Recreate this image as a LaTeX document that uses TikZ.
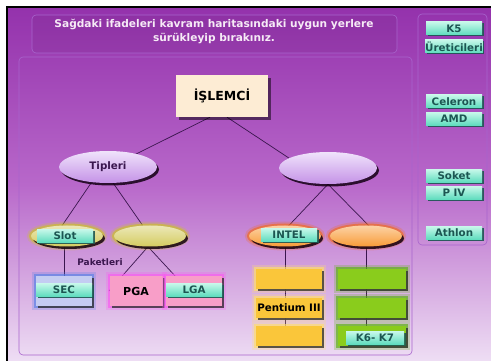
\documentclass[tikz,border=0pt]{standalone}
\usepackage{fontspec}
\setmainfont{DejaVu Sans}
\usetikzlibrary{shapes.geometric, shadows, positioning}
\definecolor{bgtop}{RGB}{148, 50, 172}
\definecolor{bgmid}{RGB}{184, 104, 202}
\definecolor{bgbot}{RGB}{238, 222, 244}
\definecolor{panelline}{RGB}{168, 100, 205}
\definecolor{linkline}{RGB}{58, 22, 78}
\definecolor{titletext}{RGB}{246, 234, 246}
\definecolor{lilac}{RGB}{204, 162, 242}
\definecolor{olive}{RGB}{212, 204, 96}
\definecolor{oliveglow}{RGB}{205, 195, 40}
\definecolor{orangefill}{RGB}{248, 156, 56}
\definecolor{orangeglow}{RGB}{242, 108, 30}
\definecolor{gold}{RGB}{250, 198, 58}
\definecolor{goldglow}{RGB}{255, 222, 110}
\definecolor{lime}{RGB}{138, 204, 28}
\definecolor{limeglow}{RGB}{92, 176, 20}
\definecolor{pinkfill}{RGB}{248, 158, 200}
\definecolor{pinkglow}{RGB}{250, 90, 240}
\definecolor{bluefill}{RGB}{196, 204, 242}
\definecolor{blueglow}{RGB}{90, 130, 230}
\definecolor{aqua}{RGB}{110, 236, 200}
\definecolor{aquadark}{RGB}{28, 86, 82}
\definecolor{cream}{RGB}{253, 236, 212}
\pgfdeclarelayer{back}
\pgfdeclarelayer{links}
\pgfsetlayers{back,links,main}

\begin{document}
\begin{tikzpicture}[x=1pt, y=-1pt, font=\bfseries\fontsize{10.3}{12}\selectfont,
    panel/.style={draw=panelline, rounded corners=4pt, line width=0.6pt},
    link/.style={draw=linkline, line width=0.7pt},
    glow/.style={preaction={draw=#1, line width=8pt, opacity=0.25},
        preaction={draw=#1, line width=4pt, opacity=0.65}},
    bubble/.style={ellipse, inner sep=0pt, text=linkline,
        drop shadow={shadow xshift=2pt, shadow yshift=-2.5pt, fill=black!85!violet, opacity=0.85}},
    bigbubble/.style={bubble, minimum width=98pt, minimum height=32pt,
        top color=lilac!30!white, bottom color=lilac!90!violet},
    smallbubble/.style={bubble, minimum width=72pt, minimum height=21pt},
    slotbox/.style={rectangle, inner sep=0pt, minimum width=#1, minimum height=20pt, text=black,
        drop shadow={shadow xshift=2pt, shadow yshift=-2pt, fill=black!80, opacity=0.8}},
    tealbtn/.style={rectangle, inner sep=0pt, minimum width=56pt, minimum height=13pt,
        top color=aqua!40!white, bottom color=aqua!85!teal, text=aquadark,
        drop shadow={shadow xshift=1.5pt, shadow yshift=-1.5pt, fill=aquadark, opacity=0.9}}]
    \useasboundingbox (0,0) rectangle (491,361);

    % Page, frame and panels
    \begin{pgfonlayer}{back}
        \fill[white] (0,0) rectangle (491,361);
        \shade[top color=bgtop, bottom color=bgbot, middle color=bgmid] (8,8) rectangle (491,361);
        \draw[black, line width=2.5pt] (7,361) -- (7,7) -- (491,7);
        \draw[panel, fill=bgtop!70!black, fill opacity=0.15] (32,15) rectangle (397,53);
        \draw[panel] (19,57) rectangle (412,355);
        \draw[panel] (418,14) rectangle (487,245);
    \end{pgfonlayer}

    % Instruction
    \node[text=titletext, align=center, font=\bfseries\fontsize{10.6}{14}\selectfont] (title) at (214,31)
        {Sağdaki ifadeleri kavram haritasındaki uygun yerlere\\sürükleyip bırakınız.};

    % Top of the map
    \node[rectangle, minimum width=92pt, minimum height=42pt, fill=cream, text=black,
        font=\bfseries\fontsize{12.5}{14}\selectfont,
        drop shadow={shadow xshift=3pt, shadow yshift=-3pt, fill=black}] (islemci) at (222,96) {İŞLEMCİ};
    \node[bigbubble] (tipleri) at (108,167) {Tipleri};
    \node[bigbubble] (ureticiler) at (328,168) {};

    % Left branch
    \node[glow=oliveglow, smallbubble, top color=olive!45!white, bottom color=olive] (slot) at (67,236) {};
    \node[tealbtn] (slotbtn) at (65,236) {Slot};
    \node[glow=oliveglow, smallbubble, top color=olive!45!white, bottom color=olive] (paket) at (150,236) {};
    \node[text=linkline, font=\bfseries\fontsize{9}{10}\selectfont] (paketleri) at (100,262) {Paketleri};
    \node[glow=blueglow, slotbox=56pt, minimum height=30pt, fill=bluefill] (sec) at (64,291) {};
    \node[tealbtn] (secbtn) at (64,290) {SEC};
    \node[glow=pinkglow, slotbox=53pt, minimum height=30pt, fill=pinkfill,
        font=\bfseries\fontsize{11}{12}\selectfont] (pga) at (136,291) {PGA};
    \node[glow=pinkglow, slotbox=56pt, minimum height=30pt, fill=pinkfill] (lga) at (194,291) {};
    \node[tealbtn] (lgabtn) at (194,290) {LGA};

    % Right branch
    \node[glow=orangeglow, smallbubble, top color=orangefill!45!white, bottom color=orangefill] (intel) at (285,236) {};
    \node[tealbtn] (intelbtn) at (289,235) {INTEL};
    \node[glow=orangeglow, smallbubble, top color=orangefill!45!white, bottom color=orangefill] (amd) at (366,236) {};
    \foreach \y/\n/\t in {279/1/{}, 308/2/{Pentium III}, 336/3/{}} {
        \node[glow=goldglow, slotbox=66pt, fill=gold] (intel\n) at (289,\y) {\t};
        \node[glow=limeglow, slotbox=68pt, fill=lime] (amd\n) at (372,\y) {};
    }
    \node[tealbtn, minimum width=58pt] (k6btn) at (375,338) {K6- K7};

    % Connectors
    \begin{pgfonlayer}{links}
        \draw[link] ([xshift=-12pt]islemci.south) -- ([xshift=2pt]tipleri.center);
        \draw[link] ([xshift=5pt]islemci.south) -- ([xshift=-24pt]ureticiler.center);
        \draw[link] ([xshift=-6pt]tipleri.center) -- ([xshift=-12pt]slot.center);
        \draw[link] ([xshift=-6pt]tipleri.center) -- (paket);
        \draw[link] (sec) -- (sec |- slot);
        \draw[link] ([xshift=-2pt]paket.south) -- ([xshift=-27pt]pga.center);
        \draw[link] ([xshift=-2pt]paket.south) -- ([xshift=-5pt]lga.center);
        \draw[link] (ureticiler.south) -- ([xshift=-6pt]intel.center);
        \draw[link] (ureticiler.south) -- ([xshift=13pt]amd.center);
        \draw[link] (intel) -- (intel |- intel3);
        \draw[link] (amd) -- (amd |- amd3);
    \end{pgfonlayer}

    % Answer buttons
    \foreach \y/\t in {28.5/K5, 46.5/Üreticileri, 101.5/Celeron, 119/AMD, 176/Soket, 193/P IV, 233/Athlon} {
        \node[tealbtn] (btn\y) at (454,\y) {\t};
    }
\end{tikzpicture}
\end{document}
